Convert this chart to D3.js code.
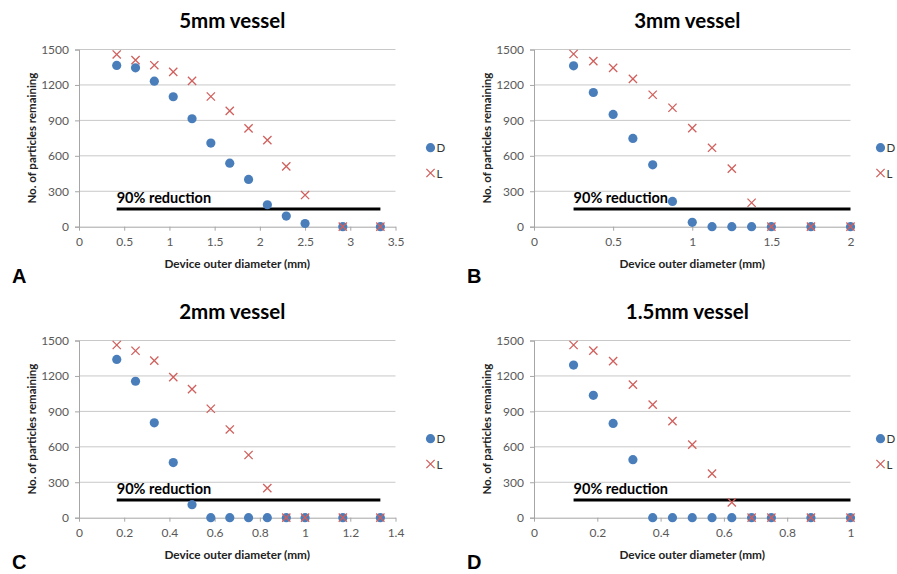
<!DOCTYPE html>
<html>
<head>
<meta charset="utf-8">
<script src="https://cdn.jsdelivr.net/npm/d3@7"></script>
<style>
  body { margin: 0; background: #fff; }
  text { font-family: Lato, "Open Sans", sans-serif; }
</style>
</head>
<body>
<script>
// values
const titles = ["5mm vessel", "3mm vessel", "2mm vessel", "1.5mm vessel"];
const letters = ["A", "B", "C", "D"];

const diamA = [0.417, 0.625, 0.833, 1.042, 1.25, 1.458, 1.667, 1.875, 2.083, 2.292, 2.5, 2.917, 3.333];
const dA = [1365, 1345, 1232, 1100, 914, 708, 538, 400, 186, 90, 27, 0, 0];
const lA = [1458, 1410, 1367, 1311, 1235, 1102, 981, 832, 733, 510, 268, 0, 0];

const diamB = [0.25, 0.375, 0.5, 0.625, 0.75, 0.875, 1.0, 1.125, 1.25, 1.375, 1.5, 1.75, 2.0];
const dB = [1362, 1136, 950, 747, 524, 214, 37, 0, 0, 0, 0, 0, 0];
const lB = [1462, 1401, 1345, 1252, 1117, 1007, 835, 668, 491, 203, 0, 0, 0];

const diamC = [0.167, 0.25, 0.333, 0.417, 0.5, 0.583, 0.667, 0.75, 0.833, 0.917, 1.0, 1.167, 1.333];
const dC = [1340, 1155, 803, 467, 110, 0, 0, 0, 0, 0, 0, 0, 0];
const lC = [1462, 1413, 1330, 1190, 1088, 922, 747, 531, 250, 0, 0, 0, 0];

const diamD = [0.125, 0.1875, 0.25, 0.3125, 0.375, 0.4375, 0.5, 0.5625, 0.625, 0.6875, 0.75, 0.875, 1.0];
const dD = [1292, 1036, 798, 491, 0, 0, 0, 0, 0, 0, 0, 0, 0];
const lD = [1462, 1414, 1326, 1126, 957, 817, 618, 373, 130, 0, 0, 0, 0];

const xTicksA = [0, 0.5, 1, 1.5, 2, 2.5, 3, 3.5];
const xTicksB = [0, 0.5, 1, 1.5, 2];
const xTicksC = [0, 0.2, 0.4, 0.6, 0.8, 1, 1.2, 1.4];
const xTicksD = [0, 0.2, 0.4, 0.6, 0.8, 1];
const yTicks = [0, 300, 600, 900, 1200, 1500];

const reductionLevel = 150;

const panels = [
  {diam: diamA, d: dA, l: lA, ticks: xTicksA, ox: 0, oy: 0, legendX: 35},
  {diam: diamB, d: dB, l: lB, ticks: xTicksB, ox: 455, oy: 0, legendX: 30},
  {diam: diamC, d: dC, l: lC, ticks: xTicksC, ox: 0, oy: 291, legendX: 35},
  {diam: diamD, d: dD, l: lD, ticks: xTicksD, ox: 455, oy: 291, legendX: 30}
];

const W = 897, H = 574;
const svg = d3.select("body").append("svg")
  .attr("width", W)
  .attr("height", H);

const blue = "#4a7ebb";
const red = "#d0605d";
const plotLeft = 79, plotRight = 395.5, plotTop = 49.5, plotBottom = 226.7;

panels.forEach((p, i) => {
  const g = svg.append("g").attr("transform", `translate(${p.ox}, ${p.oy})`);

  const x = d3.scaleLinear()
    .domain([0, d3.max(p.ticks)])
    .range([plotLeft, plotRight]);
  const y = d3.scaleLinear()
    .domain([0, 1500])
    .range([plotBottom, plotTop]);

  // gridlines
  g.append("g").selectAll("line")
    .data(yTicks.slice(1))
    .enter().append("line")
      .attr("x1", plotLeft).attr("x2", plotRight)
      .attr("y1", d => y(d)).attr("y2", d => y(d))
      .attr("stroke", "#c8c8c8").attr("stroke-width", 1);

  // y axis
  const yAxis = g.append("g")
    .attr("transform", `translate(${plotLeft}, 0)`)
    .call(d3.axisLeft(y).tickValues(yTicks).tickSize(4).tickPadding(6).tickFormat(d3.format("d")));
  yAxis.select(".domain").attr("stroke", "#a6a6a6");
  yAxis.selectAll(".tick line").attr("stroke", "#a6a6a6");
  yAxis.selectAll("text").attr("fill", "#595959").style("font-size", "12px");

  // x axis
  const xAxis = g.append("g")
    .attr("transform", `translate(0, ${plotBottom})`)
    .call(d3.axisBottom(x).tickValues(p.ticks).tickSize(4).tickPadding(7).tickSizeOuter(0)
      .tickFormat(d3.format("")));
  xAxis.select(".domain").attr("stroke", "#a6a6a6");
  xAxis.selectAll(".tick line").attr("stroke", "#a6a6a6");
  xAxis.selectAll("text").attr("fill", "#595959").style("font-size", "12px");

  // 90% reduction line
  g.append("line")
    .attr("x1", x(d3.min(p.diam))).attr("x2", x(d3.max(p.diam)))
    .attr("y1", y(reductionLevel)).attr("y2", y(reductionLevel))
    .attr("stroke", "#000").attr("stroke-width", 3);
  g.append("text")
    .attr("x", x(d3.min(p.diam)))
    .attr("y", y(reductionLevel) - 6)
    .attr("font-weight", "bold")
    .style("font-size", "14.5px")
    .text("90% reduction");

  // D series
  g.append("g").selectAll("circle")
    .data(p.diam.map((v, j) => [v, p.d[j]]))
    .enter().append("circle")
      .attr("cx", d => x(d[0]))
      .attr("cy", d => y(d[1]))
      .attr("r", 4.6)
      .attr("fill", blue);

  // L series
  const cross = d3.symbol().type(d3.symbolX).size(46);
  g.append("g").selectAll("path")
    .data(p.diam.map((v, j) => [v, p.l[j]]))
    .enter().append("path")
      .attr("d", cross)
      .attr("transform", d => `translate(${x(d[0])}, ${y(d[1])})`)
      .attr("fill", "none")
      .attr("stroke", red)
      .attr("stroke-width", 1.3);

  // legend
  const lg = g.append("g").attr("transform", `translate(${plotRight + p.legendX}, 0)`);
  lg.append("circle").attr("cx", 0).attr("cy", 147.7).attr("r", 4.6).attr("fill", blue);
  lg.append("text").attr("x", 6).attr("y", 152).style("font-size", "11.5px").attr("fill", "#333").text("D");
  lg.append("path").attr("d", cross).attr("transform", "translate(0, 173)")
    .attr("fill", "none").attr("stroke", red).attr("stroke-width", 1.3);
  lg.append("text").attr("x", 6).attr("y", 177.5).style("font-size", "11.5px").attr("fill", "#333").text("L");

  // titles
  g.append("text")
    .attr("x", (plotLeft + plotRight) / 2 - 5)
    .attr("y", 28)
    .attr("text-anchor", "middle")
    .attr("font-weight", "bold")
    .style("font-size", "20.5px")
    .text(titles[i]);

  g.append("text")
    .attr("x", (plotLeft + plotRight) / 2)
    .attr("y", 268)
    .attr("text-anchor", "middle")
    .attr("font-weight", "bold")
    .style("font-size", "11.8px")
    .attr("fill", "#222")
    .text("Device outer diameter (mm)");

  g.append("text")
    .attr("transform", `translate(36, ${(plotTop + plotBottom) / 2}) rotate(-90)`)
    .attr("text-anchor", "middle")
    .attr("font-weight", "bold")
    .style("font-size", "11.5px")
    .attr("fill", "#222")
    .text("No. of particles remaining");

  g.append("text")
    .attr("x", 12)
    .attr("y", i < 2 ? 283 : 278)
    .attr("font-weight", "bold")
    .style("font-family", "'Liberation Sans', Arial, sans-serif")
    .style("font-size", "20px")
    .text(letters[i]);
});
</script>
</body>
</html>
